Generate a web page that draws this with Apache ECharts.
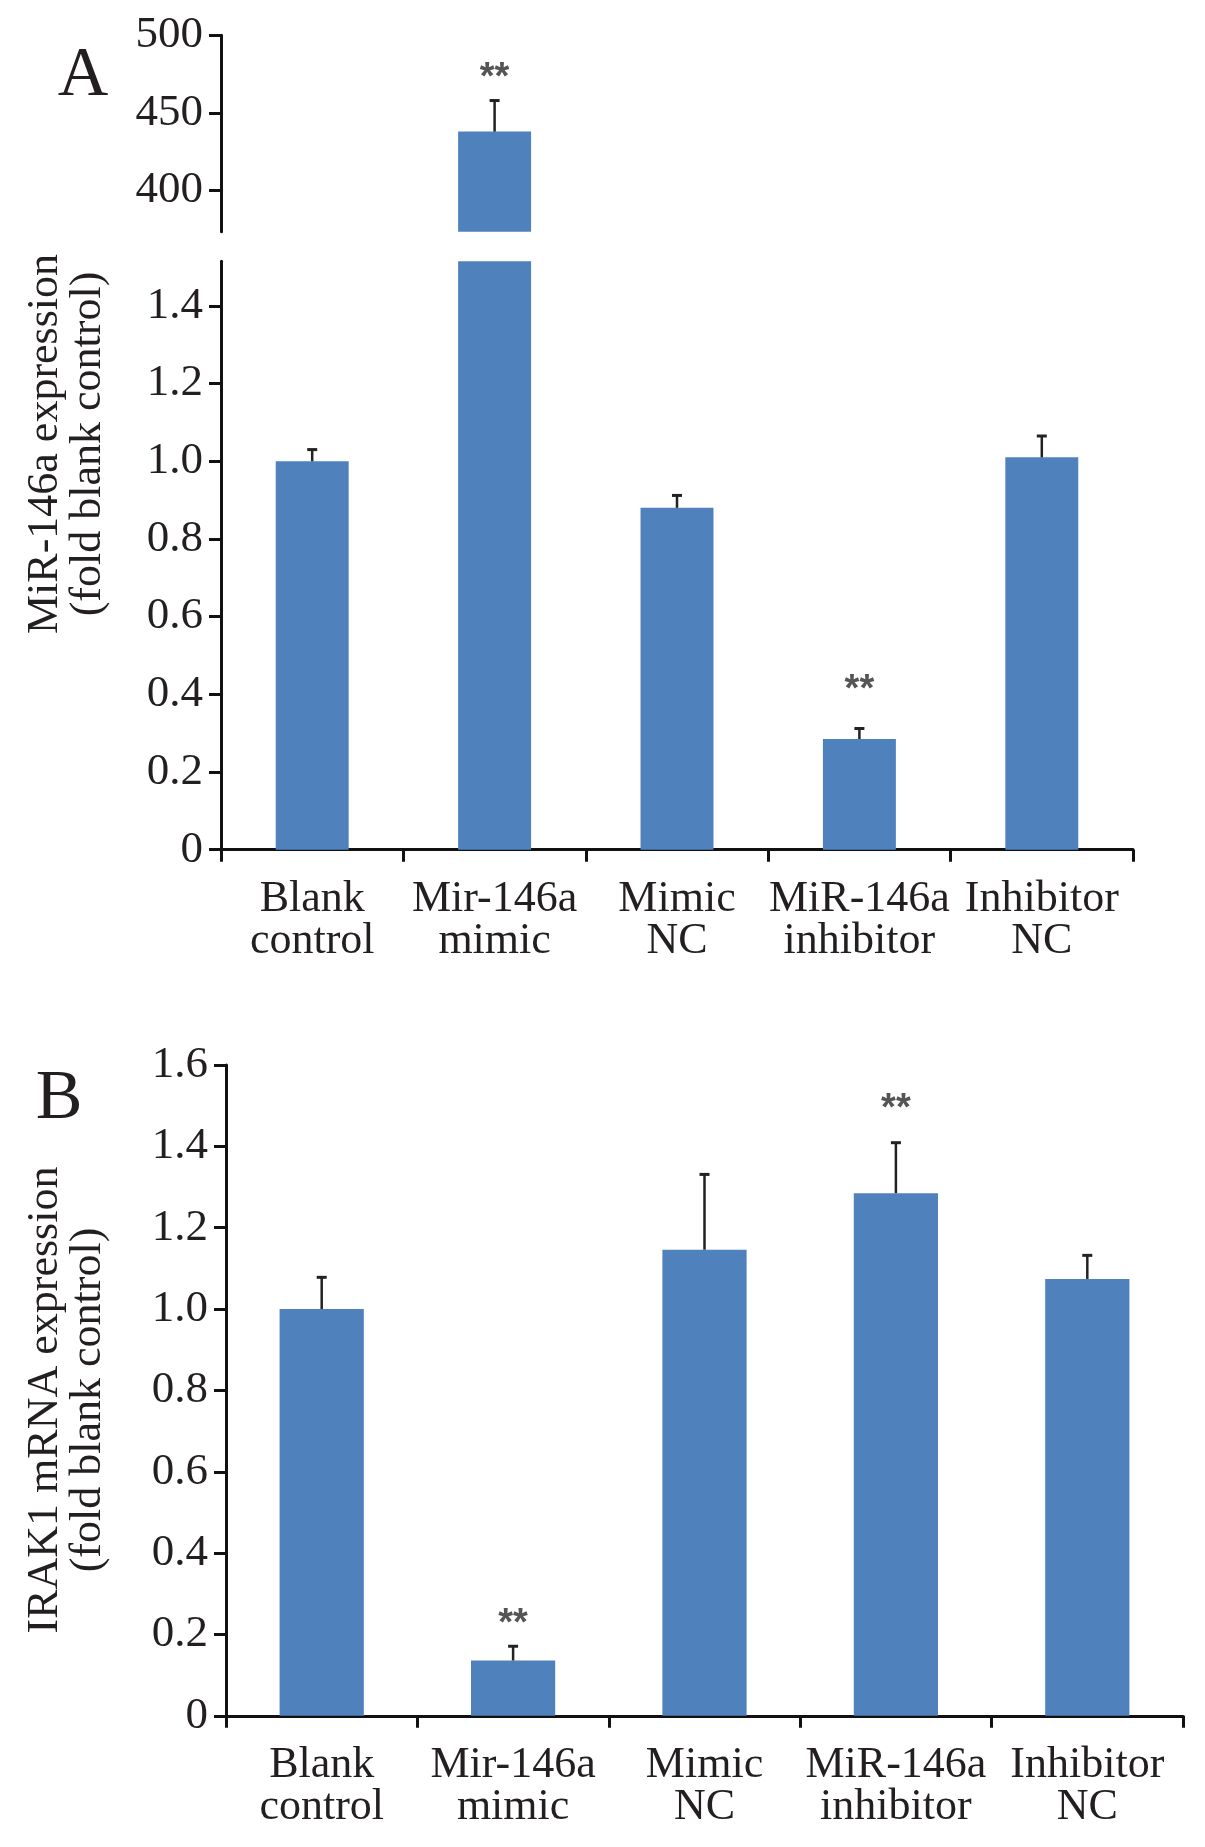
<!DOCTYPE html>
<html>
<head>
<meta charset="utf-8">
<script src="https://cdn.jsdelivr.net/npm/echarts@6/dist/echarts.min.js"></script>
<style>
html,body{margin:0;padding:0;background:#fff;}
#chart{width:1205px;height:1847px;}
</style>
</head>
<body>
<div id="chart"></div>
<script>
// ---- data ----
const categories = ['Blank\ncontrol', 'Mir-146a\nmimic', 'Mimic\nNC', 'MiR-146a\ninhibitor', 'Inhibitor\nNC'];

// Panel A: MiR-146a expression (fold blank control)
const mirValues = [1.00, 438, 0.88, 0.285, 1.01];
const mirErrors = [0.03, 20, 0.032, 0.027, 0.055];
const mirStarPos = [null, 472, null, 0.41, null];
const mirUpperTicks = [400, 450, 500];
const mirLowerTicks = [0, 0.2, 0.4, 0.6, 0.8, 1.0, 1.2, 1.4];
const mirUpperRange = [373.5, 500];
const mirLowerRange = [0, 1.515];

// Panel B: IRAK1 mRNA expression (fold blank control)
const irakValues = [1.00, 0.136, 1.146, 1.285, 1.074];
const irakErrors = [0.078, 0.035, 0.185, 0.124, 0.058];
const irakStarPos = [null, 0.225, null, 1.49, null];
const irakTicks = [0, 0.2, 0.4, 0.6, 0.8, 1.0, 1.2, 1.4, 1.6];
const irakRange = [0, 1.6];

// ---- styles ----
const FONT = 'Liberation Serif';
const TXT = '#231f20';
const BAR = '#4f81bd';
const LINE = '#111';

const fmtLower = v => (v === 0 ? '0' : v.toFixed(1));

function yAxisBase(gridIndex, range, ticks, fmt) {
  return {
    type: 'value', gridIndex, min: range[0], max: range[1],
    splitLine: { show: false },
    axisLine: { show: true, lineStyle: { color: LINE, width: 3 } },
    axisTick: { show: true, length: 12, lineStyle: { color: LINE, width: 3 }, customValues: ticks },
    axisLabel: { fontFamily: FONT, fontSize: 45, color: TXT, margin: 18, customValues: ticks, formatter: fmt }
  };
}
function xAxisBase(gridIndex, show) {
  return {
    type: 'category', gridIndex, data: categories,
    axisLine: { show, lineStyle: { color: LINE, width: 3 } },
    axisTick: { show, length: 12, lineStyle: { color: LINE, width: 3 } },
    axisLabel: { show, fontFamily: FONT, fontSize: 44, color: TXT, lineHeight: 42, margin: 29, interval: 0 }
  };
}

function errRender(params, api) {
  const x = api.value(0), v = api.value(1), e = api.value(2);
  const p0 = api.coord([x, v]);
  const p1 = api.coord([x, v + e]);
  return {
    type: 'group',
    children: [
      { type: 'line', shape: { x1: p0[0], y1: p0[1], x2: p1[0], y2: p1[1] }, style: { stroke: '#222', lineWidth: 2.5 } },
      { type: 'line', shape: { x1: p1[0] - 5, y1: p1[1], x2: p1[0] + 5, y2: p1[1] }, style: { stroke: '#222', lineWidth: 3 } }
    ]
  };
}
function starRender(params, api) {
  const p = api.coord([api.value(0), api.value(1)]);
  return {
    type: 'text', x: p[0], y: p[1],
    style: { text: '**', fill: '#555', font: 'bold 38px "Liberation Sans"', align: 'center', verticalAlign: 'middle' }
  };
}

const errData = (vals, errs, pred) => vals.map((v, i) => [i, v, errs[i]]).filter(d => pred(d[1]));
const starData = (pos, pred) => pos.map((v, i) => [i, v]).filter(d => d[1] !== null && pred(d[1]));

const isUpper = v => v > mirLowerRange[1];
const isLower = v => v <= mirLowerRange[1];

const option = {
  animation: false,
  backgroundColor: '#fff',
  grid: [
    { left: 221, right: 72, top: 35.3, height: 196.5 },
    { left: 221, right: 72, top: 261.2, height: 588.5 },
    { left: 226, right: 22, top: 1065, height: 650.8 }
  ],
  xAxis: [xAxisBase(0, false), xAxisBase(1, true), xAxisBase(2, true)],
  yAxis: [
    yAxisBase(0, mirUpperRange, mirUpperTicks, v => String(v)),
    yAxisBase(1, mirLowerRange, mirLowerTicks, fmtLower),
    yAxisBase(2, irakRange, irakTicks, fmtLower)
  ],
  series: [
    { type: 'bar', xAxisIndex: 0, yAxisIndex: 0, barWidth: '40%', clip: true,
      itemStyle: { color: BAR }, data: mirValues.map(v => (isUpper(v) ? v : '-')) },
    { type: 'bar', xAxisIndex: 1, yAxisIndex: 1, barWidth: '40%', clip: true,
      itemStyle: { color: BAR }, data: mirValues },
    { type: 'bar', xAxisIndex: 2, yAxisIndex: 2, barWidth: '44%', clip: true,
      itemStyle: { color: BAR }, data: irakValues },
    { type: 'custom', xAxisIndex: 0, yAxisIndex: 0, renderItem: errRender, data: errData(mirValues, mirErrors, isUpper), z: 3 },
    { type: 'custom', xAxisIndex: 1, yAxisIndex: 1, renderItem: errRender, data: errData(mirValues, mirErrors, isLower), z: 3 },
    { type: 'custom', xAxisIndex: 2, yAxisIndex: 2, renderItem: errRender, data: errData(irakValues, irakErrors, () => true), z: 3 },
    { type: 'custom', xAxisIndex: 0, yAxisIndex: 0, renderItem: starRender, data: starData(mirStarPos, isUpper), z: 4 },
    { type: 'custom', xAxisIndex: 1, yAxisIndex: 1, renderItem: starRender, data: starData(mirStarPos, isLower), z: 4 },
    { type: 'custom', xAxisIndex: 2, yAxisIndex: 2, renderItem: starRender, data: starData(irakStarPos, () => true), z: 4 }
  ],
  graphic: [
    { type: 'text', x: 83, y: 77, style: { text: 'A', font: '70px "Liberation Serif"', fill: TXT, align: 'center', verticalAlign: 'middle' } },
    { type: 'text', x: 59, y: 1100, style: { text: 'B', font: '70px "Liberation Serif"', fill: TXT, align: 'center', verticalAlign: 'middle' } },
    { type: 'text', x: 45, y: 444, rotation: Math.PI / 2, style: { text: 'MiR-146a expression', font: '44px "Liberation Serif"', fill: TXT, align: 'center', verticalAlign: 'middle' } },
    { type: 'text', x: 88, y: 444, rotation: Math.PI / 2, style: { text: '(fold blank control)', font: '44px "Liberation Serif"', fill: TXT, align: 'center', verticalAlign: 'middle' } },
    { type: 'text', x: 45, y: 1400, rotation: Math.PI / 2, style: { text: 'IRAK1 mRNA expression', font: '44px "Liberation Serif"', fill: TXT, align: 'center', verticalAlign: 'middle' } },
    { type: 'text', x: 88, y: 1400, rotation: Math.PI / 2, style: { text: '(fold blank control)', font: '44px "Liberation Serif"', fill: TXT, align: 'center', verticalAlign: 'middle' } }
  ]
};

const chart = echarts.init(document.getElementById('chart'), null, { renderer: 'canvas' });
chart.setOption(option);
</script>
</body>
</html>
